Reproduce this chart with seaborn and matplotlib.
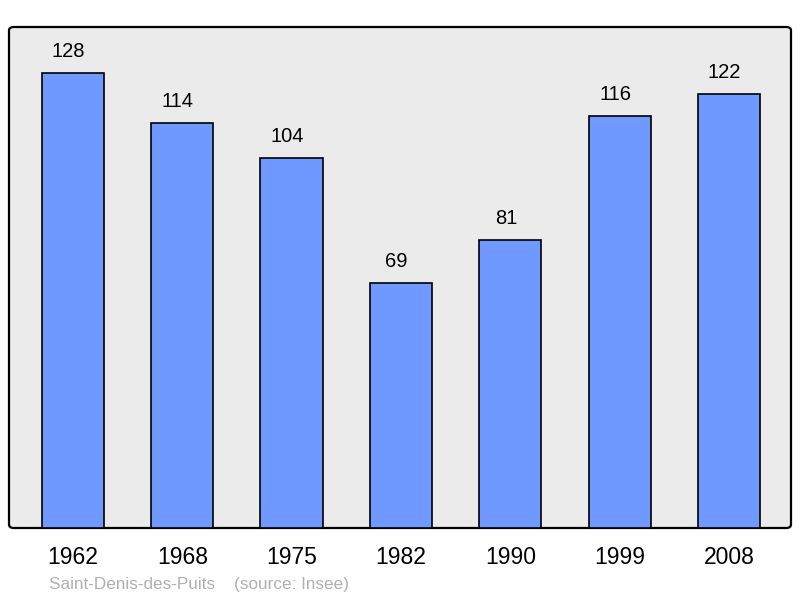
import matplotlib
matplotlib.use("Agg")
import matplotlib.pyplot as plt
import seaborn as sns
import pandas as pd
from matplotlib.patches import FancyBboxPatch
from matplotlib.transforms import offset_copy

years = ["1962", "1968", "1975", "1982", "1990", "1999", "2008"]
population = [128, 114, 104, 69, 81, 116, 122]

sns.set_theme(style="white")
plt.rcParams['font.family'] = ['Liberation Sans', 'DejaVu Sans']

df = pd.DataFrame({"year": years, "pop": population})

fig = plt.figure(figsize=(8, 5.98), dpi=100)
W, H = 800, 598
left, right, top, bottom = 9, 791, 27, 528
ax = fig.add_axes([left / W, 1 - bottom / H, (right - left) / W, (bottom - top) / H])
ax.set_facecolor("none")
ax.set_zorder(2)

bg = FancyBboxPatch((left / W, 1 - bottom / H), (right - left) / W, (bottom - top) / H,
                    boxstyle="round,pad=0,rounding_size=0.006", transform=fig.transFigure,
                    facecolor="#ebebeb", edgecolor="black", linewidth=1.6, zorder=0)
fig.patches.append(bg)

sns.barplot(data=df, x="year", y="pop", ax=ax, color="#7099ff", width=0.57,
            edgecolor="black", linewidth=1.2, saturation=1)

ax.set_xlim(-0.585, 6.567)
ax.set_ylim(0, 140.9)
for s in ax.spines.values():
    s.set_visible(False)
ax.set_yticks([])
ax.set_xlabel("")
ax.set_ylabel("")
ax.tick_params(axis="x", length=0, labelsize=16.5, pad=13, colors="black")

label_tr = offset_copy(ax.transData, fig=fig, x=-4.5, y=0, units="dots")
for i, v in enumerate(population):
    ax.text(i, v + 3.3, str(v), ha="center", va="bottom", fontsize=14.5, color="black",
            transform=label_tr)

fig.text(49 / W, 1 - 584 / H, "Saint-Denis-des-Puits    (source: Insee)", fontsize=12.3,
         color="#b0b0b0", ha="left", va="center")

fig.savefig("out.png", dpi=100, facecolor="white")
